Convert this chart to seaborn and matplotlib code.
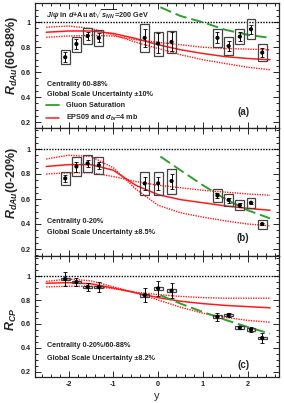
import numpy as np
import pandas as pd
import matplotlib
matplotlib.use('Agg')
import matplotlib.pyplot as plt
from matplotlib.patches import Rectangle
from matplotlib.lines import Line2D
from matplotlib.ticker import MultipleLocator
import seaborn as sns

# rapidity bins
rap = [-2.075, -1.825, -1.575, -1.325, -0.3, 0.0, 0.3, 1.325, 1.575, 1.825, 2.075, 2.325]

# (a) peripheral R_dAu
val_a = [0.72, 0.826, 0.89, 0.875, 0.875, 0.83, 0.843, 0.875, 0.81, 0.885, 0.944, 0.757]
stat_a = [0.04, 0.04, 0.035, 0.035, 0.07, 0.08, 0.075, 0.045, 0.04, 0.035, 0.035, 0.035]
sys_a = [0.056, 0.06, 0.065, 0.065, 0.11, 0.096, 0.09, 0.07, 0.07, 0.06, 0.08, 0.067]

# (b) central R_dAu
val_b = [0.765, 0.86, 0.885, 0.87, 0.725, 0.725, 0.744, 0.628, 0.592, 0.55, 0.57, 0.40]
stat_b = [0.03, 0.04, 0.03, 0.03, 0.05, 0.05, 0.06, 0.02, 0.02, 0.015, 0.01, 0.01]
sys_b = [0.05, 0.073, 0.067, 0.07, 0.093, 0.093, 0.1, 0.053, 0.047, 0.04, 0.04, 0.036]

# (c) R_CP
val_c = [0.975, 0.95, 0.908, 0.908, 0.84, 0.897, 0.878, 0.66, 0.675, 0.57, 0.553, 0.483]
stat_c = [0.055, 0.03, 0.03, 0.04, 0.058, 0.06, 0.065, 0.033, 0.015, 0.01, 0.02, 0.04]
sys_c = [0.012, 0.012, 0.012, 0.012, 0.012, 0.012, 0.012, 0.012, 0.012, 0.012, 0.012, 0.012]

# EPS09 curves
y_eps = [-2.5, -2.0, -1.5, -1.0, -0.5, 0.0, 0.5, 1.0, 1.5, 2.0, 2.5]
eps_a = [0.92, 0.93, 0.93, 0.91, 0.87, 0.82, 0.78, 0.75, 0.725, 0.71, 0.70]
eps_a_lo = [0.96, 0.97, 0.95, 0.90, 0.84, 0.79, 0.74, 0.70, 0.67, 0.64, 0.62]
eps_a_hi = [0.88, 0.89, 0.895, 0.89, 0.86, 0.84, 0.82, 0.80, 0.79, 0.785, 0.78]
eps_b = [0.86, 0.875, 0.875, 0.83, 0.71, 0.635, 0.595, 0.57, 0.545, 0.525, 0.51]
eps_b_lo = [0.92, 0.95, 0.94, 0.85, 0.68, 0.55, 0.49, 0.455, 0.425, 0.40, 0.385]
eps_b_hi = [0.80, 0.81, 0.81, 0.78, 0.74, 0.71, 0.69, 0.67, 0.655, 0.64, 0.63]
eps_c = [0.94, 0.945, 0.935, 0.90, 0.86, 0.82, 0.79, 0.77, 0.755, 0.745, 0.735]
eps_c_lo = [0.955, 0.975, 0.96, 0.91, 0.86, 0.80, 0.74, 0.69, 0.655, 0.63, 0.615]
eps_c_hi = [0.91, 0.915, 0.915, 0.895, 0.865, 0.845, 0.83, 0.82, 0.815, 0.815, 0.815]

# gluon saturation curves
y_cgc = [0.05, 0.5, 1.0, 1.5, 2.0, 2.5]
cgc_a = [1.12, 1.05, 1.0, 0.94, 0.90, 0.875]
cgc_b = [0.94, 0.83, 0.71, 0.60, 0.51, 0.445]
cgc_c = [0.84, 0.77, 0.70, 0.635, 0.575, 0.52]

sns.set_style('ticks')
plt.rcParams['font.family'] = ['Liberation Sans', 'DejaVu Sans']
plt.rcParams['font.weight'] = 'bold'
plt.rcParams['mathtext.fontset'] = 'custom'
plt.rcParams['mathtext.rm'] = 'Liberation Sans:bold'
plt.rcParams['mathtext.it'] = 'Liberation Sans:italic:bold'

RED = '#ff1a1a'
GREEN = '#2ea02e'
FS = 5.2

fig = plt.figure(figsize=(2.84, 4.03), dpi=100)
L, W = 35 / 284, 244 / 284
ax_a = fig.add_axes([L, 1 - 128 / 403, W, 125 / 403])
ax_b = fig.add_axes([L, 1 - 256 / 403, W, 128 / 403])
ax_c = fig.add_axes([L, 1 - 377 / 403, W, 121 / 403])

panels = [
    (ax_a, val_a, stat_a, sys_a, eps_a, eps_a_lo, eps_a_hi, cgc_a, (0.154, 1.154)),
    (ax_b, val_b, stat_b, sys_b, eps_b, eps_b_lo, eps_b_hi, cgc_b, (0.144, 1.168)),
    (ax_c, val_c, stat_c, sys_c, eps_c, eps_c_lo, eps_c_hi, cgc_c, (0.158, 1.167)),
]

for ax, v, st, sy, e, elo, ehi, g, ylim in panels:
    ax.axhline(1.0, color='black', ls=(0, (1, 1)), lw=1.0, zorder=1)
    for curve in [elo, ehi]:
        sns.lineplot(x=y_eps, y=curve, color=RED, ls=(0, (1, 0.8)), lw=1.0, ax=ax, zorder=2)
    sns.lineplot(x=y_eps, y=e, color=RED, lw=1.1, ax=ax, zorder=2)
    sns.lineplot(x=y_cgc, y=g, color=GREEN, lw=1.4, dashes=False, ax=ax, zorder=3)
    ax.lines[-1].set_dashes((6, 2.5))
    for xi, yi, si in zip(rap, v, sy):
        ax.add_patch(Rectangle((xi - 0.1, yi - si), 0.2, 2 * si, fill=False,
                               ec='#444444', lw=0.9, zorder=4))
    ax.errorbar(rap, v, yerr=st, fmt='none', ecolor='black', elinewidth=0.7,
                capsize=1.2, capthick=0.6, zorder=5)
    sns.scatterplot(x=rap, y=v, color='black', s=9, marker='o', edgecolor='none',
                    ax=ax, zorder=6)
    ax.set_xlim(-2.75, 2.7)
    ax.set_ylim(*ylim)
    ax.set_yticks([0.2, 0.4, 0.6, 0.8, 1.0])
    ax.set_yticklabels(['0.2', '0.4', '0.6', '0.8', '1'])
    ax.yaxis.set_minor_locator(MultipleLocator(0.05))
    ax.xaxis.set_major_locator(MultipleLocator(1))
    ax.xaxis.set_minor_locator(MultipleLocator(0.2))
    ax.tick_params(which='both', direction='in', top=True, right=True,
                   labelsize=FS, width=0.7, pad=3)
    ax.tick_params(which='major', length=4.5)
    ax.tick_params(which='minor', length=2.3)
    for s in ax.spines.values():
        s.set_linewidth(0.9)
    ax.set_xlabel('')
    ax.set_ylabel('')

ax_a.tick_params(labelbottom=False)
ax_b.tick_params(labelbottom=False)
ax_c.set_xticks([-2, -1, 0, 1, 2])
ax_c.set_xticklabels(['-2', '-1', '0', '1', '2'])
ax_c.set_xlabel('y', fontsize=8, labelpad=2)

tx = 0.049
ax_a.text(0.045, 0.904, r'$J/\psi$ in $d$+Au at$\sqrt{s_{NN}}$=200 GeV', transform=ax_a.transAxes,
          fontsize=FS, va='center')
ax_a.text(tx, 0.352, 'Centrality 60-88%', transform=ax_a.transAxes, fontsize=FS, va='center')
ax_a.text(tx, 0.264, 'Global Scale Uncertainty \u00b110%', transform=ax_a.transAxes,
          fontsize=FS, va='center')
handles = [Line2D([], [], color=GREEN, lw=1.3), Line2D([], [], color=RED, lw=1.1)]
ax_a.legend(handles, ['Gluon Saturation', r'EPS09 and $\sigma_{br}$=4 mb'],
            loc='upper left', bbox_to_anchor=(0.035, 0.23), frameon=False,
            fontsize=FS, handlelength=1.8, handletextpad=0.9, labelspacing=0.55,
            borderaxespad=0)
ax_a.text(0.853, 0.128, '(a)', transform=ax_a.transAxes, fontsize=7, ha='center', va='center')

ax_b.text(tx, 0.273, 'Centrality 0-20%', transform=ax_b.transAxes, fontsize=FS, va='center')
ax_b.text(tx, 0.18, 'Global Scale Uncertainty \u00b18.5%', transform=ax_b.transAxes,
          fontsize=FS, va='center')
ax_b.text(0.853, 0.14, '(b)', transform=ax_b.transAxes, fontsize=7, ha='center', va='center')

ax_c.text(tx, 0.264, 'Centrality 0-20%/60-88%', transform=ax_c.transAxes, fontsize=FS, va='center')
ax_c.text(tx, 0.157, 'Global Scale Uncertainty \u00b18.2%', transform=ax_c.transAxes,
          fontsize=FS, va='center')
ax_c.text(0.853, 0.10, '(c)', transform=ax_c.transAxes, fontsize=7, ha='center', va='center')

ax_a.text(-0.095, 0.58, r'$R_{dAu}$(60-88%)', transform=ax_a.transAxes, rotation=90,
          fontsize=9, ha='center', va='center')
ax_b.text(-0.095, 0.57, r'$R_{dAu}$(0-20%)', transform=ax_b.transAxes, rotation=90,
          fontsize=9, ha='center', va='center')
ax_c.text(-0.095, 0.48, r'$R_{CP}$', transform=ax_c.transAxes, rotation=90,
          fontsize=9, ha='center', va='center')

fig.savefig('out.png', dpi=100)
